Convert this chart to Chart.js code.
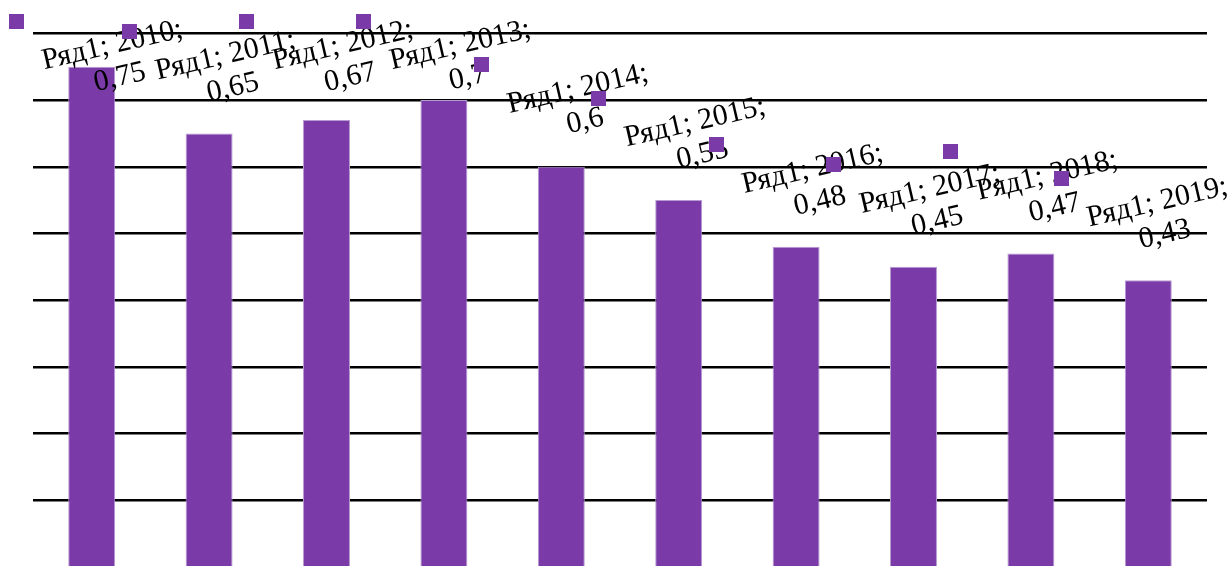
<!DOCTYPE html>
<html>
<head>
<meta charset="utf-8">
<script src="https://cdn.jsdelivr.net/npm/chart.js@4"></script>
<style>
html, body { margin: 0; padding: 0; background: #fff; overflow: hidden; }
</style>
</head>
<body>
<canvas id="chart" width="1228" height="567"></canvas>
<script>
// данные
const seriesName = 'Ряд1'
const years = ['2010', '2011', '2012', '2013', '2014', '2015', '2016', '2017', '2018', '2019']
const values = [0.75, 0.65, 0.67, 0.7, 0.6, 0.55, 0.48, 0.45, 0.47, 0.43]
const gridValues = [0.1, 0.2, 0.3, 0.4, 0.5, 0.6, 0.7, 0.8]

const barColor = '#7a3aa8'

// подписи данных с ключом легенды
const labelPlugin = {
    id: 'barLabels',
    afterDatasetsDraw(chart) {
        const ctx = chart.ctx
        const meta = chart.getDatasetMeta(0)
        const spots = meta.data.map(bar => ({
            x: Math.min(Math.max(bar.x + 20, 116), 1161),
            y: Math.max(bar.y - 62, 61)
        }))
        ctx.save()
        ctx.font = '30px "Liberation Serif", "Times New Roman", serif'
        ctx.fillStyle = '#000'
        ctx.textAlign = 'center'
        ctx.textBaseline = 'middle'
        spots.forEach((p, i) => {
            ctx.save()
            ctx.translate(p.x, p.y)
            ctx.rotate(-13 * Math.PI / 180)
            ctx.fillText(seriesName + '; ' + years[i] + ';', 0, -16)
            ctx.fillText(String(values[i]).replace('.', ','), 0, 17)
            ctx.restore()
        })
        ctx.fillStyle = barColor
        spots.forEach(p => {
            ctx.fillRect(Math.round(p.x - 100 - 7.5), Math.round(p.y - 40 - 7.5), 15, 15)
        })
        ctx.restore()
    }
}

new Chart(document.getElementById('chart'), {
    type: 'bar',
    data: {
        labels: years,
        datasets: [{
            label: seriesName,
            data: values,
            backgroundColor: barColor,
            borderColor: '#b89ad2',
            borderWidth: 1,
            barPercentage: 0.4,
            categoryPercentage: 1
        }]
    },
    options: {
        responsive: false,
        animation: false,
        layout: { padding: { left: 33, right: 21, top: 0, bottom: 0 } },
        plugins: {
            legend: { display: false },
            tooltip: { enabled: false }
        },
        scales: {
            x: { display: false },
            y: {
                min: 0,
                max: 0.85,
                afterBuildTicks: scale => {
                    scale.ticks = gridValues.map(v => ({ value: v }))
                },
                ticks: { display: false },
                border: { display: false },
                grid: { color: '#000', lineWidth: 2.5, drawTicks: false, tickLength: 0 }
            }
        }
    },
    plugins: [labelPlugin]
})
</script>
</body>
</html>
